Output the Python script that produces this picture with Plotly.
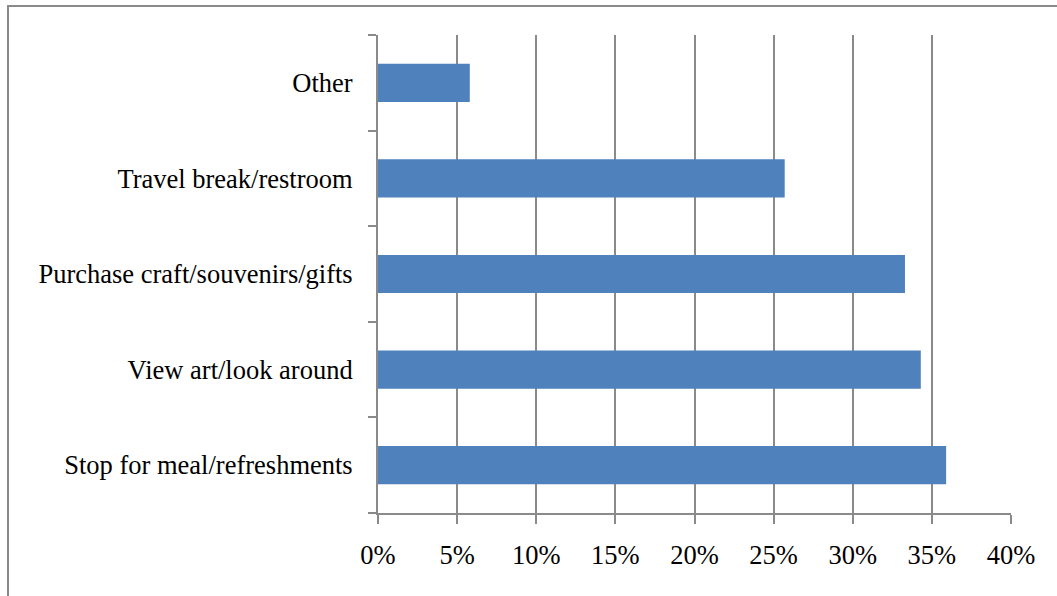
import plotly.graph_objects as go

# Reasons for stopping (share of respondents)
categories = [
    "Stop for meal/refreshments",
    "View art/look around",
    "Purchase craft/souvenirs/gifts",
    "Travel break/restroom",
    "Other",
]
shares = [0.359, 0.343, 0.333, 0.257, 0.058]
x_ticks = [0, 0.05, 0.10, 0.15, 0.20, 0.25, 0.30, 0.35, 0.40]

GRID = "#8a8a8a"
BAR = "#4F81BD"
FONT = dict(family="Liberation Serif, Times New Roman, serif", size=26.5, color="black")

fig = go.Figure(
    go.Bar(
        x=shares,
        y=categories,
        orientation="h",
        width=0.4,
        marker=dict(color=BAR, line=dict(width=0)),
        hoverinfo="x+y",
    )
)

fig.update_layout(
    width=1057,
    height=596,
    margin=dict(l=378, r=46, t=35, b=83),
    paper_bgcolor="white",
    plot_bgcolor="white",
    font=FONT,
    showlegend=False,
    bargap=0.6,
    shapes=[
        # outer chart frame (right/bottom edges fall outside the page)
        dict(
            type="rect",
            xref="paper",
            yref="paper",
            x0=(8 - 378) / 633,
            x1=1.2,
            y0=-0.3,
            y1=(513 - 6) / 478,
            line=dict(color=GRID, width=2),
            fillcolor="rgba(0,0,0,0)",
            layer="below",
        )
    ],
)

fig.update_xaxes(
    range=[0, 0.4],
    tickvals=x_ticks,
    tickformat=".0%",
    showgrid=True,
    gridcolor=GRID,
    gridwidth=1.5,
    zeroline=False,
    showline=True,
    linecolor=GRID,
    linewidth=2,
    ticks="outside",
    ticklen=9,
    tickwidth=1.5,
    tickcolor=GRID,
    tickfont=FONT,
    ticklabelstandoff=8,
    fixedrange=True,
)

fig.update_yaxes(
    categoryorder="array",
    categoryarray=categories,
    showgrid=False,
    showline=True,
    linecolor=GRID,
    linewidth=2,
    ticks="outside",
    tickson="boundaries",
    ticklen=8,
    tickwidth=1.5,
    tickcolor=GRID,
    tickfont=FONT,
    ticklabelstandoff=18,
    fixedrange=True,
)

fig.write_html("out.html", config={"displayModeBar": False})
